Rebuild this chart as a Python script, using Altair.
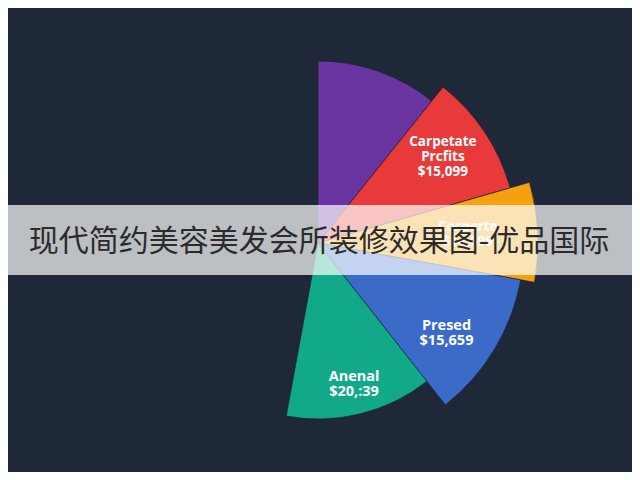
import math
import altair as alt
import pandas as pd

# ---- data ----
categories = ["Unlabeled", "Carpetate Prcfits", "Corperte", "Presed", "Anenal"]
sweep_degrees = [38.7, 35.3, 26.3, 41.5, 48.6]          # angular share of each slice
labels = ["", "Carpetate\nPrcfits\n$15,099", "Corperte\n$14,699", "Presed\n$15,659", "Anenal\n$20,:39"]
banner_text = "现代简约美容美发会所装修效果图-优品国际"

# ---- styles ----
colors = ["#6a35a0", "#e83a3a", "#f5a00e", "#3a6bc8", "#12a88a"]
outer_radii = [182, 200, 220, 206, 176]
label_dy = [0, -18, -9, 6, -12]
label_size = [14, 13.5, 13.5, 14.5, 14.5]
BG = "#1f2838"
W, H = 624, 464
CX, CY = 310, 235

df = pd.DataFrame({
    "cat": categories,
    "value": sweep_degrees,
    "label": labels,
    "order": list(range(len(categories))),
})

theta_scale = alt.Scale(domain=[0, 360], range=[0, 2 * math.pi])
color_scale = alt.Scale(domain=categories, range=colors)

base = (
    alt.Chart(df)
    .transform_window(cum="sum(value)", sort=[alt.SortField("order")], frame=[None, 0])
    .transform_calculate(start="datum.cum - datum.value", mid="datum.cum - datum.value / 2")
)

layers = []
for c, r in zip(categories, outer_radii):
    layers.append(
        base.transform_filter(alt.datum.cat == c)
        .mark_arc(outerRadius=r, stroke="#1a1f2e", strokeWidth=0.8, strokeOpacity=0.8)
        .encode(
            theta=alt.Theta("start:Q", scale=theta_scale),
            theta2="cum:Q",
            color=alt.Color("cat:N", scale=color_scale, legend=None),
            x=alt.value(CX),
            y=alt.value(CY),
        )
    )

text_layers = []
for c, lab, d, fs in zip(categories, labels, label_dy, label_size):
    if not lab:
        continue
    text_layers.append(
        base.transform_filter(alt.datum.cat == c)
        .mark_text(
            color="white", fontSize=fs, fontWeight="bold", font="Open Sans",
            lineBreak="\n", lineHeight=15, align="center", baseline="middle", dy=d,
        )
        .encode(
            theta=alt.Theta("mid:Q", scale=theta_scale),
            radius=alt.value(150),
            text="label:N",
            x=alt.value(CX),
            y=alt.value(CY),
        )
    )

banner = (
    alt.Chart(pd.DataFrame({"t": [banner_text]}))
    .mark_rect(color="white", opacity=0.7)
    .encode(x=alt.value(0), x2=alt.value(W), y=alt.value(197), y2=alt.value(267))
)

banner_label = (
    alt.Chart(pd.DataFrame({"t": [banner_text]}))
    .mark_text(font="Noto Sans CJK SC", fontSize=30, color="#2b2b2b", align="center", baseline="middle")
    .encode(text="t:N", x=alt.value(311), y=alt.value(234))
)

chart = (
    alt.layer(*layers, *text_layers, banner, banner_label)
    .properties(
        width=W, height=H, background=BG, padding=0,
        autosize=alt.AutoSizeParams(type="fit", contains="padding"),
    )
    .configure_view(strokeWidth=0)
)

chart.save("out.html", embed_options={"renderer": "svg", "actions": False})
